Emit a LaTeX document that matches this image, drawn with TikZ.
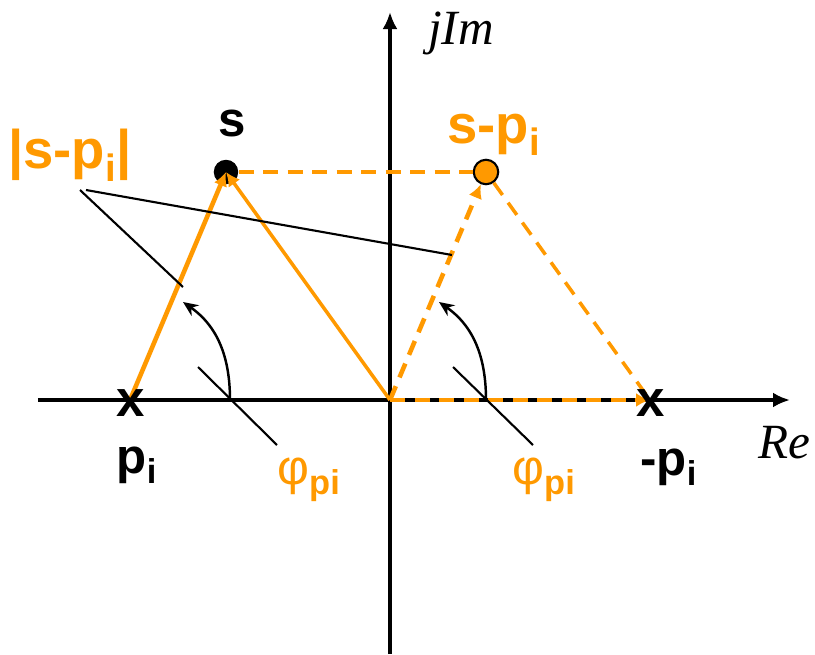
\documentclass[tikz,border=0pt]{standalone}
\usepackage{fontspec}
\setmainfont{Liberation Sans}
\newfontfamily\axisfont{Liberation Serif}
\usepackage{tikz}
\usetikzlibrary{arrows.meta}
\definecolor{vecorange}{RGB}{255,153,0}
\tikzset{
  >={Latex[length=2.8mm,width=2.8mm]},
  axis/.style={draw, line width=2pt, -{Latex[length=3.4mm,width=3mm]}},
  vec/.style={draw=vecorange, line width=2.6pt},
  vecthin/.style={draw=vecorange, line width=2pt},
  dashvec/.style={dash pattern=on 3mm off 1.9mm},
  guide/.style={draw, line width=1.2pt},
  anglearc/.style={draw, line width=1.4pt, -{Stealth[length=3mm,width=2.6mm]}},
  dot/.style={circle, minimum size=4.9mm, inner sep=0pt},
  pole/.style={inner sep=0pt, font=\fontsize{29}{30}\selectfont\bfseries},
  lbl/.style={inner sep=0pt, font=\fontsize{28}{30}\selectfont\bfseries},
  biglbl/.style={inner sep=0pt, text=vecorange, font=\fontsize{31}{32}\selectfont\bfseries},
  axlbl/.style={inner sep=0pt, font=\fontsize{28}{30}\selectfont\axisfont\itshape},
}
\begin{document}
\begin{tikzpicture}[x=0.2mm, y=0.2mm]
  \useasboundingbox (-390,-254) rectangle (425,400);
  % points of the s-plane
  \coordinate (O) at (0,0);
  \coordinate (p) at (-260,0);
  \coordinate (mp) at (260,0);
  \node[dot, fill=black] (s) at (-164,228) {};
  \node[dot, fill=vecorange, draw=black, line width=1.2pt] (sp) at (96,228) {};
  % axes
  \coordinate (reL) at (-352,0);
  \coordinate (reR) at (400,0);
  \coordinate (imB) at (0,-254);
  \coordinate (imT) at (0,388);
  \draw[axis] (reL) -- (reR);
  \draw[axis] (imB) -- (imT);
  \node[axlbl] (re) at (394,-43) {Re};
  \node[axlbl] (im) at (71,367) {jIm};
  % vectors
  \draw[vec, ->, vecorange] (p) -- (s.center);
  \draw[vecthin, ->, vecorange] (O) -- (s.center);
  \draw[vecthin, dashvec] (s) -- (sp);
  \draw[vec, dashvec, ->, vecorange] (O) -- (sp);
  \draw[vecthin, dashvec] (sp) -- (mp);
  \draw[vec, dashvec, ->, vecorange] (O) -- (mp);
  % angles
  \coordinate (aL0) at (-160,0);
  \coordinate (aL1) at (-207,98);
  \coordinate (aR0) at (96,0);
  \coordinate (aR1) at (49,98);
  \draw[anglearc] (aL0) to[out=90, in=-35] (aL1);
  \draw[anglearc] (aR0) to[out=90, in=-35] (aR1);
  \coordinate (phL0) at (-192,33);
  \coordinate (phL1) at (-113,-45);
  \coordinate (phR0) at (63,33);
  \coordinate (phR1) at (143,-45);
  \draw[guide] (phL0) -- (phL1);
  \draw[guide] (phR0) -- (phR1);
  % magnitude pointers
  \coordinate (magA) at (-310,210);
  \coordinate (magB) at (-207,113);
  \coordinate (magC) at (-304,210);
  \coordinate (magD) at (62,145);
  \draw[guide] (magA) -- (magB);
  \draw[guide] (magC) -- (magD);
  % poles
  \node[pole] (xp) at (-259,-3) {x};
  \node[pole] (xmp) at (261,-3) {x};
  % labels
  \node[lbl] (ls) at (-158,277) {s};
  \node[biglbl] (lsp) at (104,265) {s-p\textsubscript{i}};
  \node[biglbl] (lmag) at (-320,245) {|s-p\textsubscript{i}|};
  \node[lbl] (lp) at (-253,-65) {p\textsubscript{i}};
  \node[lbl] (lmp) at (279,-67) {-p\textsubscript{i}};
  \node[lbl, text=vecorange] (phL) at (-81,-80) {{\mdseries φ}\textsubscript{pi}};
  \node[lbl, text=vecorange] (phR) at (154,-80) {{\mdseries φ}\textsubscript{pi}};
\end{tikzpicture}
\end{document}
